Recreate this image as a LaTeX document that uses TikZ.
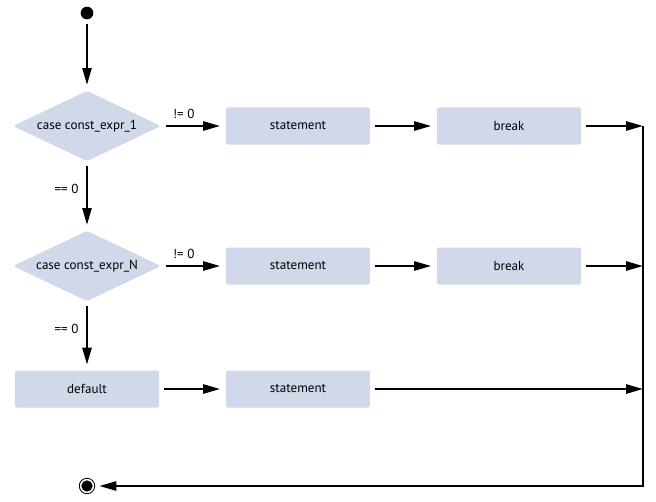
\documentclass[tikz,border=0pt]{standalone}
\usepackage{fontspec}
\setsansfont{PT Sans}
\usetikzlibrary{arrows.meta,shapes.geometric}
\definecolor{boxblue}{HTML}{D0D8EA}

\begin{document}
\begin{tikzpicture}[x=0.025cm,y=-0.025cm,
    every node/.style={font=\sffamily\fontsize{9.3}{11}\selectfont},
    stepbox/.style={rectangle,rounded corners=1.5pt,fill=boxblue,minimum width=3.6cm,minimum height=0.925cm,inner sep=0pt},
    casebox/.style={diamond,rounded corners=2pt,fill=boxblue,minimum width=3.7cm,minimum height=1.76cm,aspect=2.12,inner sep=0pt},
    flow/.style={-{Triangle[length=12pt,width=6.5pt]},line width=1.5pt,shorten <=3pt,shorten >=4pt}]
    \useasboundingbox (0,0) rectangle (656,501);

    % Nodes
    \node (start) at (87,13) [circle,fill=black,minimum size=9pt,inner sep=0pt] {};
    \node (case1) at (87,126) [casebox] {case const\_expr\_1};
    \node (stmt1) at (298,126) [stepbox] {statement};
    \node (brk1) at (509,126) [stepbox] {break};
    \node (case2) at (87,266) [casebox] {case const\_expr\_N};
    \node (stmt2) at (298,266) [stepbox] {statement};
    \node (brk2) at (509,266) [stepbox] {break};
    \node (dflt) at (87,389) [stepbox] {default};
    \node (stmt3) at (298,389) [stepbox] {statement};
    \node (stop) at (87,486) [circle,draw=black,line width=0.6pt,fill=white,minimum size=11pt,inner sep=0pt] {};
    \fill (stop) circle (4pt);

    \coordinate (rail1) at (643,126);
    \coordinate (rail2) at (643,266);
    \coordinate (rail3) at (643,389);
    \coordinate (corner) at (643,486);

    % Connectors
    \draw[flow] (start) -- (case1);
    \draw[flow] (case1) -- node[above=1pt,pos=0.35] {!= 0} (stmt1);
    \draw[flow] (stmt1) -- (brk1);
    \draw[flow,shorten >=0pt] (brk1) -- (rail1);
    \draw[flow] (case1) -- node[left=2pt,pos=0.4] {== 0} (case2);
    \draw[flow] (case2) -- node[above=1pt,pos=0.35] {!= 0} (stmt2);
    \draw[flow] (stmt2) -- (brk2);
    \draw[flow,shorten >=0pt] (brk2) -- (rail2);
    \draw[flow] (case2) -- node[left=2pt,pos=0.4] {== 0} (dflt);
    \draw[flow] (dflt) -- (stmt3);
    \draw[flow,shorten >=0pt] (stmt3) -- (rail3);
    \draw[flow,shorten <=0pt,shorten >=3pt] (rail1) -- (corner) -- (stop);
\end{tikzpicture}
\end{document}
